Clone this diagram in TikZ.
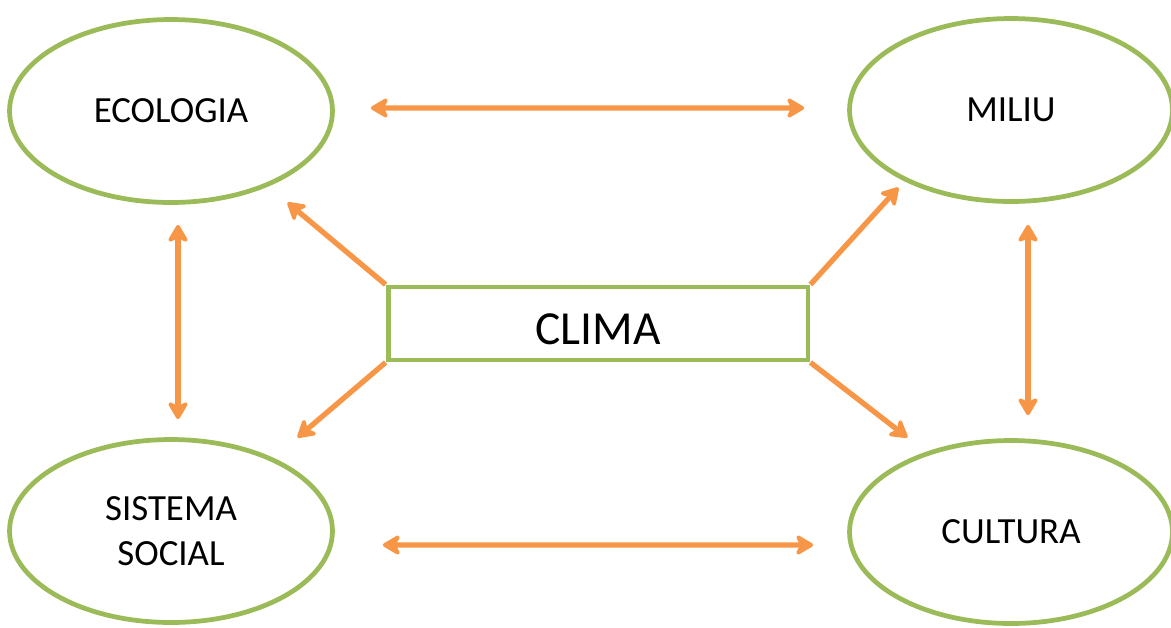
\documentclass[tikz,border=0pt]{standalone}
\usepackage{fontspec}
\setmainfont{Carlito}
\usetikzlibrary{shapes, arrows.meta, calc, positioning}
\definecolor{verde}{HTML}{9BBB59}
\definecolor{arancio}{HTML}{F79646}

\begin{document}
\begin{tikzpicture}[x=0.02cm, y=-0.02cm]

	\tikzstyle{sfera}=[ellipse, draw=verde, line width=2.7pt, minimum width=6.46cm, minimum height=3.66cm, align=center, font=\fontsize{21}{26}\selectfont]
	\tikzstyle{centro}=[rectangle, draw=verde, line width=2.8pt, minimum width=8.4cm, minimum height=1.46cm, text height=0.9cm, text depth=0.06cm, font=\fontsize{27}{32}\selectfont]
	\tikzstyle{arc}=[{Stealth[length=12pt,width=14pt,inset=3.5pt,round]}-{Stealth[length=12pt,width=14pt,inset=3.5pt,round]}, line width=3pt, arancio]
	\tikzstyle{arc1}=[-{Stealth[length=12pt,width=14pt,inset=3.5pt,round]}, line width=3pt, arancio]

	\useasboundingbox (0,0) rectangle (1171,627);

	% placement des noeuds
	\node[sfera] (eco) at (171,111) {ECOLOGIA};
	\node[sfera] (mil) at (1011,110) {MILIU};
	\node[sfera] (sis) at (171,531) {SISTEMA\\SOCIAL};
	\node[sfera] (cul) at (1011,532) {CULTURA};
	\node[centro] (clima) at (598,323.5) {CLIMA};

	% frecce doppie
	\draw[arc] ([xshift=0.72cm,yshift=0.06cm]eco.east) -- ([xshift=-0.86cm,yshift=0.04cm]mil.west);
	\draw[arc] ([xshift=0.96cm,yshift=-0.28cm]sis.east) -- ([xshift=-0.68cm,yshift=-0.26cm]cul.west);
	\draw[arc] ([xshift=0.14cm,yshift=-0.4cm]eco.south) -- ([xshift=0.14cm,yshift=0.36cm]sis.north);
	\draw[arc] ([xshift=0.34cm,yshift=-0.42cm]mil.south) -- ([xshift=0.34cm,yshift=0.46cm]cul.north);

	% frecce dal clima
	\draw[arc1] (clima.north west) -- ($(clima.north west)+(-98,-82)$);
	\draw[arc1] (clima.north east) -- ($(clima.north east)+(88,-97)$);
	\draw[arc1] (clima.south west) -- ($(clima.south west)+(-88,75)$);
	\draw[arc1] (clima.south east) -- ($(clima.south east)+(97,75)$);

\end{tikzpicture}
\end{document}
